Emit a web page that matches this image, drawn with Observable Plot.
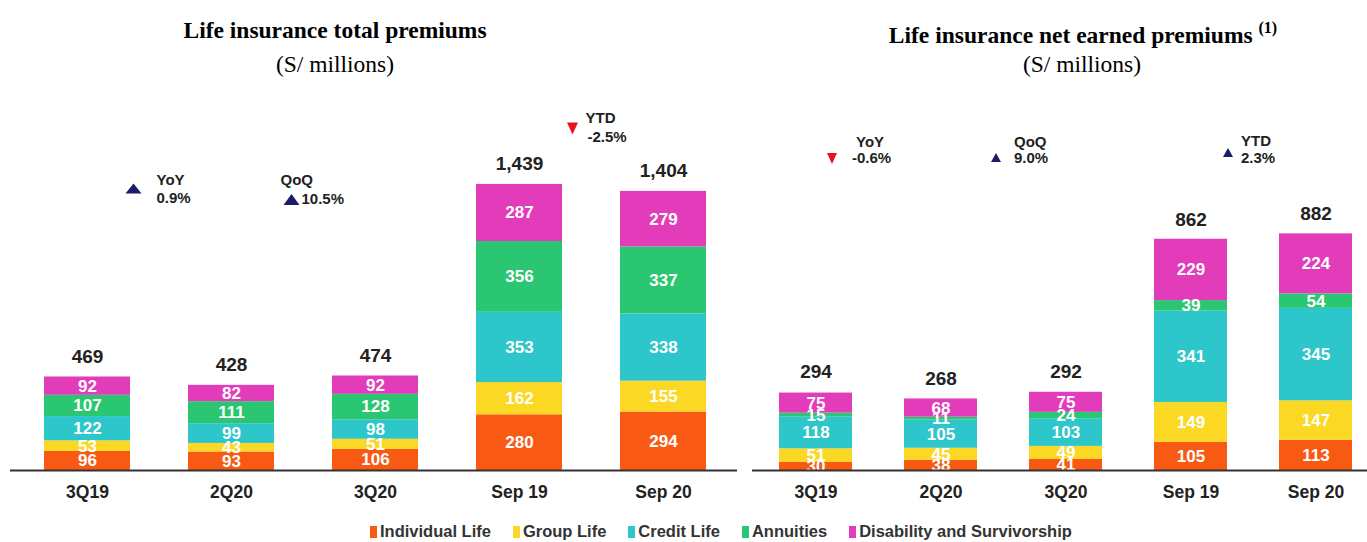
<!DOCTYPE html>
<html><head><meta charset="utf-8">
<script src="https://cdn.jsdelivr.net/npm/d3@7"></script>
<script src="https://cdn.jsdelivr.net/npm/@observablehq/plot@0.6"></script>
<style>
html,body{margin:0;padding:0;background:#fff;}
body{width:1367px;height:542px;position:relative;overflow:hidden;font-family:"Liberation Sans",Arial,sans-serif;}
.title,.sub{position:absolute;font-family:"Liberation Serif","Times New Roman",serif;color:#000;white-space:nowrap;transform:translateX(-50%);font-size:23.5px;line-height:26px;}
.title{font-weight:bold;}
.title sup{font-size:16px;vertical-align:top;position:relative;top:-7px;}
#left{position:absolute;left:0;top:90px;}
#right{position:absolute;left:745px;top:90px;}
#legend{position:absolute;left:370px;top:522px;display:flex;gap:22px;font-weight:bold;font-size:16.5px;color:#333;white-space:nowrap;}
#legend .it{display:flex;align-items:center;}
#legend .sw{display:inline-block;width:7px;height:12px;margin-right:3px;}
</style>
</head><body>
<div class="title" style="left:335px;top:17px;">Life insurance total premiums</div>
<div class="sub" style="left:335px;top:51px;">(S/ millions)</div>
<div class="title" style="left:1083px;top:22px;">Life insurance net earned premiums <sup>(1)</sup></div>
<div class="sub" style="left:1082px;top:51px;">(S/ millions)</div>
<div id="left"></div>
<div id="right"></div>
<div id="legend"></div>
<script>
// ---- Data ----
const categories = ["3Q19", "2Q20", "3Q20", "Sep 19", "Sep 20"];
const seriesNames = ["Individual Life", "Group Life", "Credit Life", "Annuities", "Disability and Survivorship"];

// Life insurance total premiums (S/ millions)
const totalIndividualLife = [96, 93, 106, 280, 294];
const totalGroupLife = [53, 43, 51, 162, 155];
const totalCreditLife = [122, 99, 98, 353, 338];
const totalAnnuities = [107, 111, 128, 356, 337];
const totalDisability = [92, 82, 92, 287, 279];
const totalSums = [469, 428, 474, 1439, 1404];
const totalChanges = [
  {label: "YoY", value: "0.9%", up: true},
  {label: "QoQ", value: "10.5%", up: true},
  {label: "YTD", value: "-2.5%", up: false}
];

// Life insurance net earned premiums (S/ millions)
const netIndividualLife = [30, 38, 41, 105, 113];
const netGroupLife = [51, 45, 49, 149, 147];
const netCreditLife = [118, 105, 103, 341, 345];
const netAnnuities = [15, 11, 24, 39, 54];
const netDisability = [75, 68, 75, 229, 224];
const netSums = [294, 268, 292, 862, 882];
const netChanges = [
  {label: "YoY", value: "-0.6%", up: false},
  {label: "QoQ", value: "9.0%", up: true},
  {label: "YTD", value: "2.3%", up: true}
];

// ---- Styling ----
const colors = ["#F85A14", "#FBD823", "#2DC6CA", "#2BC672", "#E23CBA"];
const NAVY = "#1B1B6B", RED = "#E8141B", INK = "#222";
const FONT = "Liberation Sans, Arial, sans-serif";
const fmt = d3.format(",");

function rowsOf(seriesArrays) {
  const rows = [];
  categories.forEach((cat, i) => {
    seriesNames.forEach((s, j) => rows.push({cat, series: s, value: seriesArrays[j][i]}));
  });
  return rows;
}

function tri(w, h, down) {
  return {
    draw(ctx) {
      if (down) { ctx.moveTo(-w/2, -h/2); ctx.lineTo(w/2, -h/2); ctx.lineTo(0, h/2); }
      else { ctx.moveTo(-w/2, h/2); ctx.lineTo(w/2, h/2); ctx.lineTo(0, -h/2); }
      ctx.closePath();
    }
  };
}

function annotationMarks(change, cat, triDx, triDy, labelDx, labelDy, valueDx, valueDy, w, h) {
  return [
    Plot.dot([cat], {x: d => d, frameAnchor: "top", dx: triDx, dy: triDy,
      symbol: tri(w, h, !change.up), fill: change.up ? NAVY : RED, stroke: "none"}),
    Plot.text([cat], {x: d => d, frameAnchor: "top", dx: labelDx, dy: labelDy, text: () => change.label,
      textAnchor: "start", lineAnchor: "middle", fontFamily: FONT, fontWeight: "bold", fontSize: 15, fill: INK}),
    Plot.text([cat], {x: d => d, frameAnchor: "top", dx: valueDx, dy: valueDy, text: () => change.value,
      textAnchor: "start", lineAnchor: "middle", fontFamily: FONT, fontWeight: "bold", fontSize: 15, fill: INK})
  ];
}

function chart({rows, sums, yMax, width, range, paddingInner, paddingOuter, marginLeft, marginRight, extra}) {
  const totals = categories.map((cat, i) => ({cat, total: sums[i]}));
  return Plot.plot({
    width, height: 415,
    marginTop: 0, marginBottom: 35, marginLeft, marginRight,
    x: {domain: categories, range, paddingInner, paddingOuter, axis: null},
    y: {domain: [0, yMax], axis: null},
    color: {domain: seriesNames, range: colors},
    style: {background: "transparent", overflow: "visible"},
    marks: [
      Plot.barY(rows, Plot.stackY({x: "cat", y: "value", fill: "series"})),
      Plot.text(rows, Plot.stackY({x: "cat", y: "value", text: d => d.value, fill: "white",
        fontFamily: FONT, fontWeight: "bold", fontSize: 17, lineAnchor: "middle"})),
      Plot.ruleY([0], {stroke: "#333", strokeWidth: 2}),
      Plot.text(totals, {x: "cat", y: "total", text: d => fmt(d.total), dy: -20, lineAnchor: "middle",
        fontFamily: FONT, fontWeight: "bold", fontSize: 19, fill: INK}),
      Plot.text(categories, {x: d => d, frameAnchor: "bottom", dy: 22, lineAnchor: "middle",
        fontFamily: FONT, fontWeight: "bold", fontSize: 17.5, fill: INK}),
      ...extra
    ]
  });
}

document.getElementById("left").append(chart({
  rows: rowsOf([totalIndividualLife, totalGroupLife, totalCreditLife, totalAnnuities, totalDisability]),
  sums: totalSums, yMax: 1910, width: 745,
  range: [13.5, 737.5], paddingInner: 0.4, paddingOuter: 0.2, marginLeft: 10, marginRight: 8,
  extra: [
    ...annotationMarks(totalChanges[0], "3Q19", 46, 98, 69, 90, 69, 108, 16, 10),
    ...annotationMarks(totalChanges[1], "2Q20", 60, 109, 49, 90, 70, 109, 16, 11),
    ...annotationMarks(totalChanges[2], "Sep 19", 53, 38, 66, 28, 68, 47, 11, 12)
  ]
}));

document.getElementById("right").append(chart({
  rows: rowsOf([netIndividualLife, netGroupLife, netCreditLife, netAnnuities, netDisability]),
  sums: netSums, yMax: 1418, width: 622,
  range: [7.5, 632.5], paddingInner: 0.42, paddingOuter: 0.21, marginLeft: 7, marginRight: 0,
  extra: [
    ...annotationMarks(netChanges[0], "3Q19", 16, 68, 40, 52, 36, 68, 10, 11),
    ...annotationMarks(netChanges[1], "2Q20", 55, 67, 73, 52, 73, 68, 10, 9),
    ...annotationMarks(netChanges[2], "Sep 19", 37, 62, 50, 51, 50, 68, 10, 9)
  ]
}));

const legend = document.getElementById("legend");
seriesNames.forEach((s, i) => {
  const it = document.createElement("span");
  it.className = "it";
  it.innerHTML = `<span class="sw" style="background:${colors[i]}"></span>${s}`;
  legend.append(it);
});
</script>
</body></html>
